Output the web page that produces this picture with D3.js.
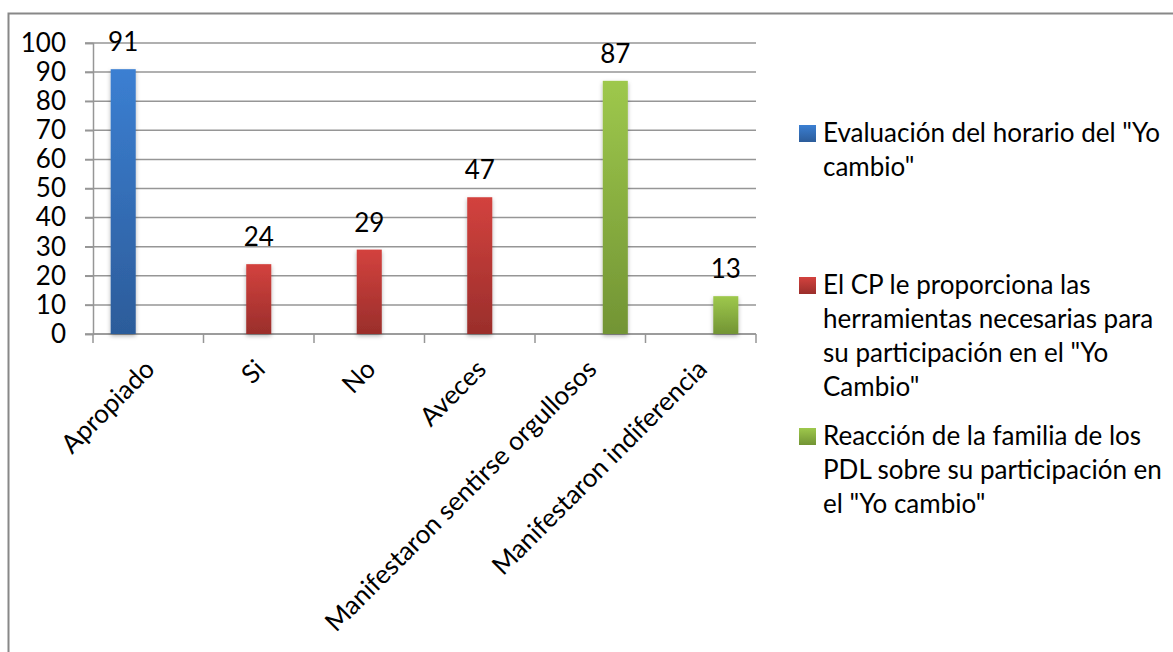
<!DOCTYPE html>
<html>
<head>
<meta charset="utf-8">
<script src="https://cdn.jsdelivr.net/npm/d3@7"></script>
<style>
  body { margin: 0; background: #fff; }
  text { font-family: Lato, "Open Sans", sans-serif; fill: #000; }
</style>
</head>
<body>
<svg id="chart"></svg>
<script>
// chart data
let categories = ['Apropiado', 'Si', 'No', 'Aveces', 'Manifestaron sentirse orgullosos', 'Manifestaron indiferencia'];
let seriesNames = [
  'Evaluación del horario del "Yo cambio"',
  'El CP le proporciona las herramientas necesarias para su participación en el "Yo Cambio"',
  'Reacción de la familia de los PDL sobre su participación en el "Yo cambio"'
];
let evaluacion = [91, 0, 0, 0, 0, 0];
let herramientas = [0, 24, 29, 47, 0, 0];
let reaccion = [0, 0, 0, 0, 87, 13];
let yTicks = [0, 10, 20, 30, 40, 50, 60, 70, 80, 90, 100];
// legend lines as wrapped in the original
let legendLines = [
  ['Evaluación del horario del "Yo', 'cambio"'],
  ['El CP le proporciona las', 'herramientas necesarias para', 'su participación en el "Yo', 'Cambio"'],
  ['Reacción de la familia de los', 'PDL sobre su participación en', 'el "Yo cambio"']
];

let vWidth = 1173,
  vHeight = 652,
  plotLeft = 93, plotRight = 756, plotTop = 43, plotBottom = 334,
  fontSize = 26,
  gradTops = ['#3b7fd2', '#d3423e', '#9ec84c'],
  gradBots = ['#2c5c9a', '#9a2e2b', '#729434'];

let allSeries = [evaluacion, herramientas, reaccion];

var svg = d3.select('#chart')
  .attr('width', vWidth)
  .attr('height', vHeight);

var defs = svg.append('defs');
gradTops.forEach(function (c, i) {
  var lg = defs.append('linearGradient')
    .attr('id', 'grad' + i)
    .attr('x1', 0).attr('y1', 0).attr('x2', 0).attr('y2', 1);
  lg.append('stop').attr('offset', '0%').attr('stop-color', c);
  lg.append('stop').attr('offset', '100%').attr('stop-color', gradBots[i]);
});
defs.append('filter')
  .attr('id', 'shadow')
  .attr('x', '-30%').attr('y', '-10%').attr('width', '160%').attr('height', '130%')
  .append('feDropShadow')
  .attr('dx', 0).attr('dy', 2).attr('stdDeviation', 2)
  .attr('flood-color', '#000').attr('flood-opacity', 0.3);

// outer border (chart area is cropped on the right/bottom)
svg.append('path')
  .attr('d', 'M8.5,' + vHeight + 'V13.5H' + vWidth)
  .attr('fill', 'none')
  .attr('stroke', '#888')
  .attr('stroke-width', 2);

//scales
var x0 = d3.scaleBand()
  .domain(categories)
  .range([plotLeft, plotRight]);

var x1 = d3.scaleBand()
  .domain(d3.range(allSeries.length))
  .range([x0.bandwidth() * 0.16, x0.bandwidth() * 0.84]);

var y = d3.scaleLinear()
  .domain([0, 100])
  .range([plotBottom, plotTop]);

//gridlines
svg.append('g')
  .selectAll('line')
  .data(yTicks)
  .enter()
  .append('line')
  .attr('x1', plotLeft - 8)
  .attr('x2', plotRight)
  .attr('y1', function (d) { return y(d); })
  .attr('y2', function (d) { return y(d); })
  .attr('stroke', '#969696')
  .attr('stroke-width', 1.5);

//y axis
var yAxis = svg.append('g')
  .attr('transform', 'translate(' + plotLeft + ',0)')
  .call(d3.axisLeft(y).tickValues(yTicks).tickSize(8).tickPadding(19));
yAxis.select('.domain').attr('stroke', '#969696').attr('stroke-width', 1.5);
yAxis.selectAll('.tick line').attr('stroke', '#969696').attr('stroke-width', 1.5);
yAxis.selectAll('.tick text')
  .attr('font-size', fontSize)
  .attr('font-family', 'Lato')
  .attr('fill', '#000');

//x axis
var xAxis = svg.append('g')
  .attr('transform', 'translate(0,' + plotBottom + ')');
xAxis.append('line')
  .attr('x1', plotLeft).attr('x2', plotRight)
  .attr('stroke', '#969696').attr('stroke-width', 1.5);
xAxis.selectAll('.xtick')
  .data(categories.concat(['end']))
  .enter()
  .append('line')
  .attr('x1', function (d, i) { return i < categories.length ? x0(d) : plotRight; })
  .attr('x2', function (d, i) { return i < categories.length ? x0(d) : plotRight; })
  .attr('y1', 0).attr('y2', 9)
  .attr('stroke', '#969696').attr('stroke-width', 1.5);

xAxis.selectAll('.xlabel')
  .data(categories)
  .enter()
  .append('text')
  .attr('transform', function (d) {
    return 'translate(' + (x0(d) + x0.bandwidth() / 2 - 5) + ',24)rotate(-45)';
  })
  .attr('text-anchor', 'end')
  .attr('dy', '0.7em')
  .attr('font-size', fontSize)
  .text(function (d) { return d; });

//bars
allSeries.forEach(function (vals, s) {
  svg.append('g').selectAll('rect')
    .data(vals.map(function (v, i) { return { v: v, i: i }; }).filter(function (d) { return d.v > 0; }))
    .enter()
    .append('rect')
    .attr('x', function (d) { return x0(categories[d.i]) + x1(s); })
    .attr('y', function (d) { return y(d.v); })
    .attr('width', x1.bandwidth())
    .attr('height', function (d) { return plotBottom - y(d.v); })
    .attr('fill', 'url(#grad' + s + ')')
    .attr('filter', 'url(#shadow)');
});

//value labels
allSeries.forEach(function (vals, s) {
  svg.append('g').selectAll('text')
    .data(vals.map(function (v, i) { return { v: v, i: i }; }).filter(function (d) { return d.v > 0; }))
    .enter()
    .append('text')
    .attr('x', function (d) { return x0(categories[d.i]) + x1(s) + x1.bandwidth() / 2; })
    .attr('y', function (d) { return y(d.v) - 18; })
    .attr('text-anchor', 'middle')
    .attr('font-size', fontSize)
    .text(function (d) { return d.v; });
});

//legend
var legendTops = [125, 277, 428];
var legend = svg.append('g');
legendLines.forEach(function (lines, s) {
  var item = legend.append('g')
    .attr('transform', 'translate(799,' + legendTops[s] + ')');
  item.append('rect')
    .attr('width', 17).attr('height', 17)
    .attr('fill', 'url(#grad' + s + ')');
  item.selectAll('text')
    .data(lines)
    .enter()
    .append('text')
    .attr('x', 24)
    .attr('y', function (d, i) { return 17 + i * 34; })
    .attr('font-size', fontSize)
    .text(function (d) { return d; });
});
</script>
</body>
</html>
